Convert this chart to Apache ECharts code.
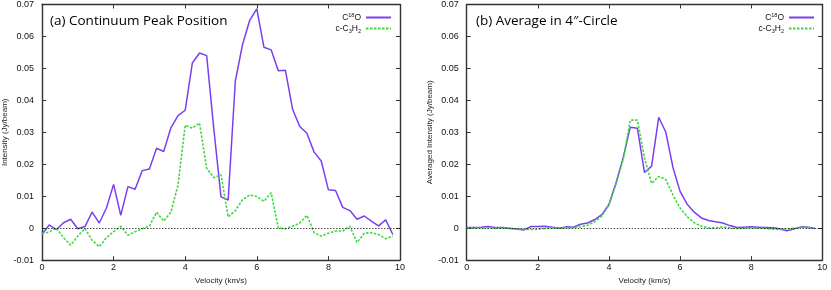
<!DOCTYPE html>
<html>
<head>
<meta charset="utf-8">
<script src="https://cdn.jsdelivr.net/npm/echarts@6/dist/echarts.min.js"></script>
<style>html,body{margin:0;padding:0;background:#fff}#c{width:831px;height:290px}</style>
</head>
<body>
<div id="c"></div>
<script>
// ---- data ----
var velocity = [0.0,0.2,0.4,0.6,0.8,1.0,1.2,1.4,1.6,1.8,2.0,2.2,2.4,2.6,2.8,3.0,3.2,3.4,3.6,3.8,
  4.0,4.2,4.4,4.6,4.8,5.0,5.2,5.4,5.6,5.8,6.0,6.2,6.4,6.6,6.8,7.0,7.2,7.4,7.6,7.8,
  8.0,8.2,8.4,8.6,8.8,9.0,9.2,9.4,9.6,9.8];

var peakC18O = [-0.0019,0.0010,-0.0005,0.0017,0.0028,-0.0002,0.0005,0.0050,0.0016,0.0063,
  0.0137,0.0040,0.0130,0.0122,0.0180,0.0185,0.0250,0.0240,0.0314,0.0352,
  0.0369,0.0517,0.0548,0.0540,0.0310,0.0098,0.0088,0.0460,0.0574,0.0650,
  0.0686,0.0566,0.0558,0.0493,0.0494,0.0372,0.0318,0.0297,0.0238,0.0210,
  0.0120,0.0118,0.0065,0.0055,0.0028,0.0038,0.0022,0.0007,0.0026,-0.0020];

var peakC3H2 = [-0.0017,-0.0012,0.0001,-0.0030,-0.0053,-0.0025,-0.0001,-0.0038,-0.0058,-0.0030,
  -0.0011,0.0006,-0.0022,-0.0011,-0.0002,0.0006,0.0050,0.0022,0.0050,0.0135,
  0.0322,0.0313,0.0329,0.0187,0.0158,0.0167,0.0035,0.0055,0.0089,0.0104,
  0.0099,0.0084,0.0111,0.0001,-0.0002,0.0006,0.0016,0.0040,-0.0014,-0.0025,
  -0.0016,-0.0009,-0.0009,0.0006,-0.0045,-0.0016,-0.0014,-0.0020,-0.0033,-0.0025];

var avgC18O = [0.0002,0.0002,0.0003,0.0005,0.0002,0.0002,0.0000,-0.0003,-0.0006,0.0005,
  0.0005,0.0006,0.0003,0.0000,0.0004,0.0003,0.0012,0.0016,0.0027,0.0042,
  0.0074,0.0142,0.0220,0.0316,0.0313,0.0174,0.0194,0.0347,0.0300,0.0190,
  0.0115,0.0075,0.0050,0.0032,0.0024,0.0020,0.0016,0.0008,0.0002,0.0003,
  0.0004,0.0003,0.0002,0.0001,-0.0002,-0.0008,-0.0003,0.0004,0.0003,-0.0001];

var avgC3H2 = [0.0000,0.0000,0.0001,0.0001,0.0000,0.0000,-0.0001,-0.0003,-0.0004,-0.0004,
  -0.0004,-0.0001,0.0001,0.0000,0.0001,0.0002,0.0004,0.0009,0.0020,0.0038,
  0.0072,0.0138,0.0215,0.0338,0.0338,0.0220,0.0140,0.0162,0.0152,0.0104,
  0.0063,0.0036,0.0017,0.0006,0.0001,0.0001,0.0004,0.0001,-0.0001,0.0000,
  0.0001,0.0000,-0.0001,-0.0003,-0.0004,-0.0003,0.0000,0.0003,0.0002,0.0000];

var xTicks = [0, 2, 4, 6, 8, 10];
var yTicks = [-0.01, 0, 0.01, 0.02, 0.03, 0.04, 0.05, 0.06, 0.07];
var panelTitles = ['(a) Continuum Peak Position', '(b) Average in 4\u2033-Circle'];
var yNames = ['Intensity (Jy/beam)', 'Averaged Intensity (Jy/beam)'];
var xName = 'Velocity (km/s)';
var seriesNames = ['C18O', 'c-C3H2'];

// ---- chart ----
var purple = '#7a40f0', green = '#3fd83f', frame = '#333';
var tickFont = 'Liberation Sans, Arial, sans-serif';

function pairs(v) { return velocity.map(function (x, i) { return [x, v[i]]; }); }
function yFmt(v) { return Math.abs(v) < 1e-9 ? '0' : String(+v.toFixed(2)); }

var grids = [
  { left: 41.7, top: 4.5, width: 358.3, height: 258.2 },
  { left: 466.7, top: 4.5, width: 355.6, height: 258.2 }
];

var xAxes = [], yAxes = [];
[0, 1].forEach(function (g) {
  var common = { gridIndex: g, type: 'value', min: xTicks[0], max: xTicks[xTicks.length - 1],
    interval: xTicks[1] - xTicks[0], splitLine: { show: false },
    axisLine: { onZero: false, lineStyle: { color: frame, width: 1.4 } },
    axisTick: { inside: true, length: 4, lineStyle: { color: frame, width: 1 } } };
  xAxes.push(Object.assign({}, common, { position: 'bottom', name: xName, nameLocation: 'middle', nameGap: 16,
    nameTextStyle: { fontFamily: tickFont, fontSize: 8, color: '#222' },
    axisLabel: { margin: 3, fontFamily: tickFont, fontSize: 9, color: '#111' } }));
  xAxes.push(Object.assign({}, common, { position: 'top', axisLabel: { show: false } }));
  var ycommon = { gridIndex: g, type: 'value', min: yTicks[0], max: yTicks[yTicks.length - 1],
    interval: yTicks[1] - yTicks[0], splitLine: { show: false },
    axisLine: { onZero: false, lineStyle: { color: frame, width: 1.4 } },
    axisTick: { inside: true, length: 4, lineStyle: { color: frame, width: 1 } } };
  yAxes.push(Object.assign({}, ycommon, { position: 'left', name: yNames[g], nameLocation: 'middle',
    nameGap: g === 0 ? 33 : 32, nameRotate: 90,
    nameTextStyle: { fontFamily: tickFont, fontSize: 8, color: '#222' },
    axisLabel: { margin: 8, fontFamily: tickFont, fontSize: 9, color: '#111', formatter: yFmt } }));
  yAxes.push(Object.assign({}, ycommon, { position: 'right', axisLabel: { show: false } }));
});

var zeroLine = { silent: true, symbol: ['none', 'none'], label: { show: false },
  lineStyle: { color: '#000', type: [1.5, 1.5], width: 0.7 }, emphasis: { disabled: true },
  data: [{ yAxis: 0 }], animation: false };

function lineSeries(name, g, vals, color, dotted, withZero) {
  var s = { name: name, type: 'line', xAxisIndex: g * 2, yAxisIndex: g * 2, data: pairs(vals),
    symbol: 'none', showSymbol: false, smooth: false, silent: true,
    lineStyle: { color: color, width: dotted ? 1.6 : 1.5, type: dotted ? [2.5, 1.5] : 'solid' },
    itemStyle: { color: color } };
  if (withZero) s.markLine = zeroLine;
  return s;
}

var rich = {
  n: { fontFamily: tickFont, fontSize: 8.5, color: '#111', verticalAlign: 'middle', lineHeight: 11 },
  sup: { fontFamily: tickFont, fontSize: 5.5, color: '#111', verticalAlign: 'top', lineHeight: 11 },
  sub: { fontFamily: tickFont, fontSize: 5.5, color: '#111', verticalAlign: 'bottom', lineHeight: 11 }
};
function legendFmt(name) {
  return name === 'C18O' ? '{n|C}{sup|18}{n|O}' : '{n|c-C}{sub|3}{n|H}{sub|2}';
}
function legend(right) {
  return { data: seriesNames, orient: 'vertical', right: right, top: 12, align: 'right',
    itemStyle: { opacity: 0, borderWidth: 0 },
    itemWidth: 25, itemHeight: 8, itemGap: 2, selectedMode: false, padding: 0,
    formatter: legendFmt, textStyle: { rich: rich } };
}

var titleStyle = { fontFamily: 'Open Sans', fontSize: 13.5, fontWeight: 'normal', color: '#000', lineHeight: 16 };

var option = {
  animation: false,
  backgroundColor: '#fff',
  title: [
    { text: panelTitles[0], left: 50, top: 13, padding: 0, textStyle: titleStyle },
    { text: panelTitles[1], left: 476, top: 13, padding: 0, textStyle: titleStyle }
  ],
  legend: [legend(439), legend(16)],
  grid: grids,
  xAxis: xAxes,
  yAxis: yAxes,
  series: [
    lineSeries(seriesNames[0], 0, peakC18O, purple, false, true),
    lineSeries(seriesNames[1], 0, peakC3H2, green, true, false),
    lineSeries(seriesNames[0], 1, avgC18O, purple, false, true),
    lineSeries(seriesNames[1], 1, avgC3H2, green, true, false)
  ]
};
var chart = echarts.init(document.getElementById('c'), null, { renderer: 'canvas' });
chart.setOption(option);
</script>
</body>
</html>
